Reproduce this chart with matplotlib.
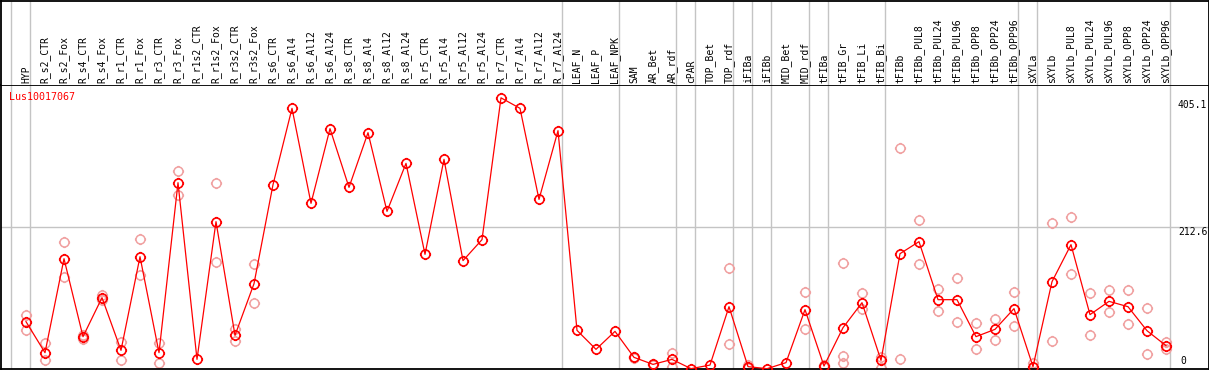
import numpy as np
import matplotlib
matplotlib.use('Agg')
import matplotlib.pyplot as plt
from matplotlib.path import Path

# ---- data ----
gene = 'Lus10017067'

samples = [
    'HYP', 'R_s2_CTR', 'R_s2_Fox', 'R_s4_CTR', 'R_s4_Fox', 'R_r1_CTR', 'R_r1_Fox',
    'R_r3_CTR', 'R_r3_Fox', 'R_r1s2_CTR', 'R_r1s2_Fox', 'R_r3s2_CTR', 'R_r3s2_Fox',
    'R_s6_CTR', 'R_s6_Al4', 'R_s6_Al12', 'R_s6_Al24', 'R_s8_CTR', 'R_s8_Al4',
    'R_s8_Al12', 'R_s8_Al24', 'R_r5_CTR', 'R_r5_Al4', 'R_r5_Al12', 'R_r5_Al24',
    'R_r7_CTR', 'R_r7_Al4', 'R_r7_Al12', 'R_r7_Al24', 'LEAF_N', 'LEAF_P', 'LEAF_NPK',
    'SAM', 'AR_Bet', 'AR_rdf', 'cPAR', 'TOP_Bet', 'TOP_rdf', 'iFIBa', 'iFIBb',
    'MID_Bet', 'MID_rdf', 'tFIBa', 'tFIB_Gr', 'tFIB_Li', 'tFIB_Bi', 'tFIBb',
    'tFIBb_PUL8', 'tFIBb_PUL24', 'tFIBb_PUL96', 'tFIBb_OPP8', 'tFIBb_OPP24',
    'tFIBb_OPP96', 'sXYLa', 'sXYLb', 'sXYLb_PUL8', 'sXYLb_PUL24', 'sXYLb_PUL96',
    'sXYLb_OPP8', 'sXYLb_OPP24', 'sXYLb_OPP96',
]

mean_expr = [
    70.3, 23.9, 164.5, 47.9, 106.2, 27.4, 167.5, 23.9, 278.2, 13.9, 219.9, 49.8, 127.1,
    275.2, 389.4, 247.3, 359.0, 271.2, 353.0, 235.3, 307.1, 171.0, 313.1, 161.6, 193.0,
    405.1, 389.4, 253.2, 356.0, 57.3, 28.9, 55.8,
    16.9, 6.4, 13.9, 0.0, 5.4, 92.7, 3.0, 0.0, 9.0, 88.3, 3.9, 61.3, 98.7, 12.4, 172.0,
    190.0, 103.2, 103.2, 47.9, 58.8, 89.8, 3.0, 130.1, 185.5, 80.8, 100.7, 92.7, 56.8, 34.4,
]

nan = np.nan
rep_hi = [
    80.2, 37.8, 190.0, 51.0, 110.0, 40.4, 194.5, 38.9, 296.2, nan, 278.2, 58.8, 157.0,
    nan, nan, nan, nan, nan, nan, nan, nan, nan, nan, nan, nan,
    nan, nan, nan, nan, nan, nan, nan,
    18.0, 7.0, 22.9, nan, nan, 150.0, 5.0, nan, nan, 115.2, 6.0, 157.5, 113.7, 18.0, 330.6,
    222.9, 119.7, 136.1, 68.8, 73.7, 115.2, 9.0, 218.4, 227.4, 112.6, 117.1, 118.2, 90.2, 39.8,
]
rep_lo = [
    57.8, 12.4, 137.6, 44.0, 102.7, 12.9, 140.0, 9.0, 259.2, nan, 160.0, 41.3, 98.7,
    nan, nan, nan, nan, nan, nan, nan, nan, nan, nan, nan, nan,
    nan, nan, nan, nan, nan, nan, nan,
    16.0, 5.0, 3.0, nan, nan, 36.3, 1.0, nan, nan, 59.8, 2.0, 18.8, 88.7, 1.5, 13.9,
    157.0, 86.8, 70.3, 28.9, 42.3, 64.3, nan, 41.9, 142.1, 50.9, 85.3, 67.3, 22.4, 29.9,
]
rep_extra = [nan] * len(samples)
rep_extra[samples.index('tFIB_Gr')] = 9.0

# sample-group separators (index of first sample in each group)
group_edges = [0, 1, 29, 32, 35, 36, 38, 39, 40, 42, 43, 46, 53, 54, 61]
scale_ticks = [405.1, 212.6, 0]

RED = '#ff0000'
PINK = '#f0a0a0'
GRID = '#c4c4c4'
FONT = 'DejaVu Sans Mono'

# circle marker with four tiny outward ticks
circ = Path.unit_circle()
ticks = [Path([[c, s], [c * 1.25, s * 1.25]], [Path.MOVETO, Path.LINETO])
         for c, s in [(1, 0), (-1, 0), (0, 1), (0, -1)]]
tick_circle = Path.make_compound_path(circ, *ticks)
MS = 8.1

W, H = 1209, 370
HEAD = 85
fig = plt.figure(figsize=(W / 100, H / 100), dpi=100)
ax = fig.add_axes([0.5 / W, 1 / H, 1208 / W, (H - HEAD - 1) / H])
hx = fig.add_axes([0.5 / W, (H - HEAD) / H, 1208 / W, (HEAD - 0.5) / H])

x = np.arange(len(samples))
xlim = (-26 / 19 + 0.5 / 19, (1208.5 - 26) / 19)
for a in (ax, hx):
    a.set_xlim(*xlim)
    a.set_xticks([])
    a.set_yticks([])
    for s in a.spines.values():
        s.set_color('black')
        s.set_linewidth(1.3)
    for e in group_edges:
        a.axvline(e - 15 / 19, color=GRID, lw=1.0, zorder=0)
hx.spines['bottom'].set_visible(False)
hx.set_ylim(0, HEAD)

ax.set_ylim(-0.5, 424.3)
ax.axhline(scale_ticks[1], color=GRID, lw=1.0, zorder=0)

# replicates then mean
for reps in (rep_hi, rep_lo, rep_extra):
    ax.plot(x, reps, ls='none', marker=tick_circle, ms=MS, mfc='none',
            mec=PINK, mew=1.1, zorder=2)
ax.plot(x, mean_expr, color=RED, lw=0.9, marker=tick_circle, ms=MS, mfc='none',
        mec=RED, mew=1.2, zorder=3)

# sample labels in the header
for i, name in enumerate(samples):
    hx.text(i, 2, name, rotation=90, ha='center', va='bottom',
            fontsize=7, family=FONT, color='black')

# gene id, top-left of the plot area
ax.annotate(gene, (0, 1), xycoords='axes fraction', xytext=(9, -7),
            textcoords='offset pixels', ha='left', va='top',
            fontsize=7.2, family=FONT, color=RED)

# scale labels on the right
lab_x = len(samples) - 1 + 12 / 19
ax.annotate(f'{scale_ticks[0]}', (lab_x, scale_ticks[0]), xytext=(0, -2.5),
            textcoords='offset pixels', ha='left', va='top', fontsize=7, family=FONT)
ax.annotate(f'{scale_ticks[1]}', (lab_x, scale_ticks[1]), xytext=(0, -0.5),
            textcoords='offset pixels', ha='left', va='top', fontsize=7, family=FONT)
ax.annotate(f'{scale_ticks[2]}', (lab_x + 2 / 19, scale_ticks[2]), xytext=(0, 3),
            textcoords='offset pixels', ha='left', va='bottom', fontsize=7, family=FONT)

fig.savefig('out.png', dpi=100)
